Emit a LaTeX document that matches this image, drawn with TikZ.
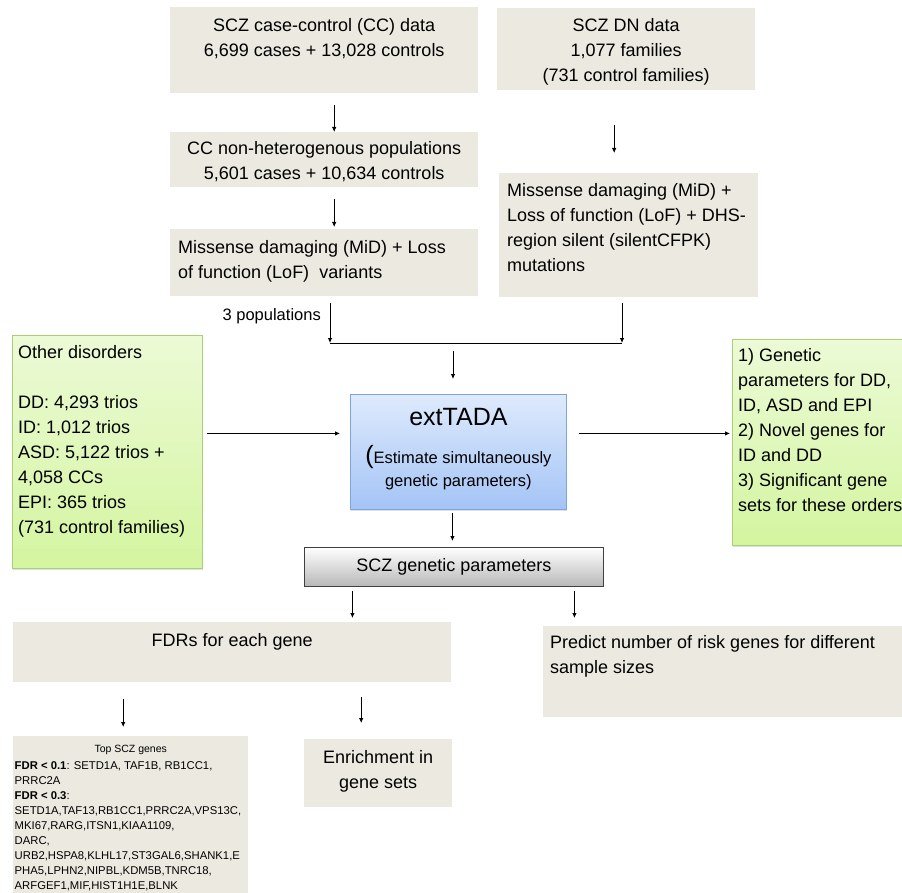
\documentclass[tikz,border=0pt]{standalone}
\usepackage{fontspec}
\setmainfont{Liberation Sans}
\usetikzlibrary{positioning,arrows.meta,shadows}
\definecolor{boxbeige}{RGB}{236,234,224}
\definecolor{greentop}{RGB}{236,250,214}
\definecolor{greenbot}{RGB}{212,245,160}
\definecolor{greenline}{RGB}{168,208,118}
\definecolor{bluetop}{RGB}{222,234,252}
\definecolor{bluebot}{RGB}{164,196,246}
\definecolor{blueline}{RGB}{126,164,220}
\tikzset{
	databox/.style={fill=boxbeige, inner sep=0pt, anchor=north west},
	greenbox/.style={top color=greentop, bottom color=greenbot, draw=greenline, line width=0.8pt, inner sep=0pt, anchor=north west, drop shadow={shadow xshift=1pt, shadow yshift=-1.5pt, opacity=0.25}},
	txt/.style={inner sep=0pt, font=\fontsize{18}{25}\selectfont},
	txtc/.style={txt, align=center},
	txtl/.style={txt, align=left},
	arr/.style={-{Latex[length=5pt,width=4.5pt]}, line width=0.8pt},
	joinline/.style={line width=0.8pt}
}
\begin{document}
\begin{tikzpicture}[x=1pt,y=-1pt]
	\useasboundingbox (0,0) rectangle (902,893);
	\clip (0,0) rectangle (902,893);

	% case-control branch
	\node[databox, minimum width=308pt, minimum height=86pt] (ccdata) at (170,7) {};
	\node[txtc, below=11pt of ccdata.north] (ccdatatxt) {SCZ case-control (CC) data\\6,699 cases + 13,028 controls};
	\node[databox, minimum width=308pt, minimum height=55pt] (ccpop) at (170,132) {};
	\node[txtc, below=9pt of ccpop.north] (ccpoptxt) {CC non-heterogenous populations\\5,601 cases + 10,634 controls};
	\node[databox, minimum width=308pt, minimum height=67pt] (ccvar) at (170,229) {};
	\node[txtl, below right=11pt and 8pt of ccvar.north west] (ccvartxt) {Missense damaging (MiD) + Loss\\of function (LoF)\ \ variants};

	% de novo branch
	\node[databox, minimum width=258pt, minimum height=82pt] (dndata) at (497,8) {};
	\node[txtc, below=10pt of dndata.north] (dndatatxt) {SCZ DN data\\1,077 families\\(731 control families)};
	\node[databox, minimum width=259pt, minimum height=124pt] (dnvar) at (499,173) {};
	\node[txtl, below right=10pt and 8pt of dnvar.north west] (dnvartxt) {Missense damaging (MiD) +\\Loss of function (LoF) + DHS-\\region silent (silentCFPK)\\mutations};

	\coordinate (joinL) at (330,343);
	\coordinate (joinR) at (622,343);
	\coordinate (joinM) at (453,343);

	% middle row
	\node[greenbox, minimum width=190pt, minimum height=233pt] (other) at (12,335) {};
	\node[txtl, below right=10pt and 6pt of other.north west] (othertxt) {Other disorders\\[25pt]DD: 4,293 trios\\ID: 1,012 trios\\ASD: 5,122 trios +\\4,058 CCs\\EPI: 365 trios\\(731 control families)};
	\node[top color=bluetop, bottom color=bluebot, draw=blueline, line width=0.8pt, inner sep=0pt, anchor=north west, minimum width=216pt, minimum height=115pt, drop shadow={shadow xshift=1pt, shadow yshift=-1.5pt, opacity=0.25}] (exttada) at (350,394) {};
	\node[inner sep=0pt, font=\fontsize{25}{30}\selectfont, below=14pt of exttada.north] (tadaname) {extTADA};
	\node[inner sep=0pt, align=center, font=\fontsize{16.5}{23}\selectfont, below=19pt of tadaname] (tadanote) {{\fontsize{25}{25}\selectfont(}Estimate simultaneously\\genetic parameters)};
	\node[greenbox, minimum width=180pt, minimum height=206pt] (results) at (732,339) {};
	\node[txtl, below right=9pt and 6pt of results.north west] (resultstxt) {1) Genetic\\parameters for DD,\\ID, ASD and EPI\\2) Novel genes for\\ID and DD\\3) Significant gene\\sets for these orders};

	\node[top color=white, bottom color=black!28, draw=black!75, line width=0.8pt, anchor=north west, minimum width=299pt, minimum height=39pt, font=\fontsize{18}{25}\selectfont, drop shadow={shadow xshift=1pt, shadow yshift=-1pt, opacity=0.2}] (sczpar) at (304,547) {SCZ genetic parameters};

	% outputs
	\node[databox, minimum width=438pt, minimum height=60pt] (fdr) at (13,622) {};
	\node[txtc, below=11pt of fdr.north] (fdrtxt) {FDRs for each gene};
	\node[databox, minimum width=370pt, minimum height=91pt] (predict) at (543,626) {};
	\node[txtl, below right=9pt and 7pt of predict.north west] (predicttxt) {Predict number of risk genes for different\\sample sizes};
	\node[databox, minimum width=235pt, minimum height=160pt] (topgenes) at (13,736) {};
	\node[inner sep=0pt, font=\fontsize{10.5}{15}\selectfont, below=9pt of topgenes.north] (topgenestitle) {Top SCZ genes};
	\node[inner sep=0pt, align=left, font=\fontsize{11.3}{15}\selectfont, below right=25pt and 1.5pt of topgenes.north west] (topgeneslist) {\textbf{FDR < 0.1}: SETD1A, TAF1B, RB1CC1,\\PRRC2A\\\textbf{FDR < 0.3}:\\SETD1A,TAF13,RB1CC1,PRRC2A,VPS13C,\\MKI67,RARG,ITSN1,KIAA1109,\\DARC,\\URB2,HSPA8,KLHL17,ST3GAL6,SHANK1,E\\PHA5,LPHN2,NIPBL,KDM5B,TNRC18,\\ARFGEF1,MIF,HIST1H1E,BLNK};
	\node[databox, minimum width=148pt, minimum height=68pt] (enrich) at (304,739) {};
	\node[txtc, below=11pt of enrich.north] (enrichtxt) {Enrichment in\\gene sets};

	% connectors
	\draw[arr, shorten <=12pt] ([xshift=10pt]ccdata.south) -- ([xshift=10pt]ccpop.north);
	\draw[arr, shorten <=12pt, shorten >=2pt] ([xshift=10pt]ccpop.south) -- ([xshift=10pt]ccvar.north);
	\draw[arr, shorten <=35pt, shorten >=20pt] ([xshift=-12pt]dndata.south) -- ([xshift=-12pt]dndata.south |- dnvar.north);
	\node[inner sep=0pt, font=\fontsize{16.5}{20}\selectfont, anchor=east] (poplabel) at ([xshift=-9pt, yshift=-20pt]ccvar.south -| joinL) {3 populations};
	\draw[arr, shorten <=7pt] (ccvar.south -| joinL) -- (joinL);
	\draw[arr, shorten <=6pt] (dnvar.south -| joinR) -- (joinR);
	\draw[joinline] (joinL) -- (joinR);
	\draw[arr, shorten <=8pt, shorten >=15pt] (joinM) -- (joinM |- exttada.north);
	\draw[arr, shorten <=4pt, shorten >=10pt] ([yshift=18.5pt]other.east) -- ([yshift=18.5pt]exttada.west);
	\draw[arr, shorten <=12pt, shorten >=2pt] ([yshift=18.5pt]exttada.east) -- ([yshift=18.5pt]exttada.east -| results.west);
	\draw[arr, shorten <=3pt, shorten >=6pt] ([xshift=-6pt]exttada.south) -- ([xshift=-6pt]exttada.south |- sczpar.north);
	\draw[arr, shorten <=4pt, shorten >=4pt] ([xshift=-101.5pt]sczpar.south) -- ([xshift=-101.5pt]sczpar.south |- fdr.north);
	\draw[arr, shorten <=4pt, shorten >=8pt] ([xshift=120.5pt]sczpar.south) -- ([xshift=120.5pt]sczpar.south |- predict.north);
	\draw[arr, shorten <=17pt, shorten >=9pt] ([xshift=-109pt]fdr.south) -- ([xshift=-109pt]fdr.south |- topgenes.north);
	\draw[arr, shorten <=15pt, shorten >=16pt] ([xshift=129pt]fdr.south) -- ([xshift=129pt]fdr.south |- enrich.north);
\end{tikzpicture}
\end{document}
